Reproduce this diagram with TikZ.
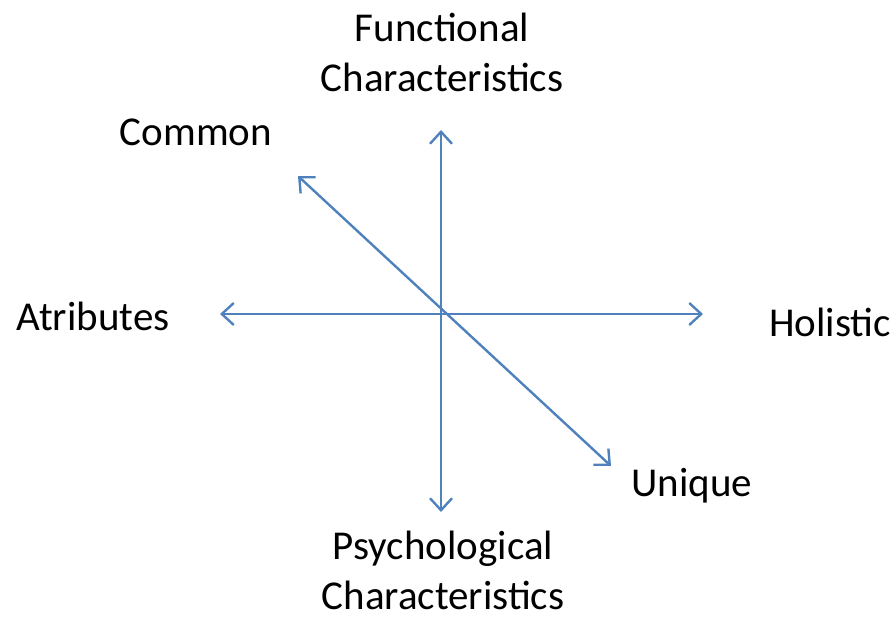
\documentclass[tikz,border=0pt]{standalone}
\usepackage{fontspec}
\setmainfont{Carlito}
\usetikzlibrary{arrows.meta}
\definecolor{axisblue}{HTML}{4F81BD}
\begin{document}
\begin{tikzpicture}[x=1pt,y=-1pt,
  axis/.style={draw=axisblue,line width=2.4pt,
    {Straight Barb[length=12pt,width=22pt,line width=2.4pt]}-{Straight Barb[length=12pt,width=22pt,line width=2.4pt]}},
  lbl/.style={inner sep=0pt,align=center,font=\fontsize{41}{50}\selectfont}]
  \useasboundingbox (0,0) rectangle (896,617);
  % axis end points
  \coordinate (top) at (441,130);
  \coordinate (bottom) at (441,512);
  \coordinate (left) at (220,314);
  \coordinate (right) at (703,314);
  \coordinate (ul) at (298,176);
  \coordinate (lr) at (611,466);
  % axes
  \draw[axis] (bottom) -- (top);
  \draw[axis] (left) -- (right);
  \draw[axis] (ul) -- (lr);
  % labels
  \node[lbl] (func) at (442,52) {Functional\\Characteristics};
  \node[lbl] (psych) at (443,570) {Psychological\\Characteristics};
  \node[lbl] (common) at (196,132) {Common};
  \node[lbl] (attr) at (93,316) {Atributes};
  \node[lbl] (hol) at (830,322) {Holistic};
  \node[lbl] (uniq) at (692,486) {Unique};
\end{tikzpicture}
\end{document}
